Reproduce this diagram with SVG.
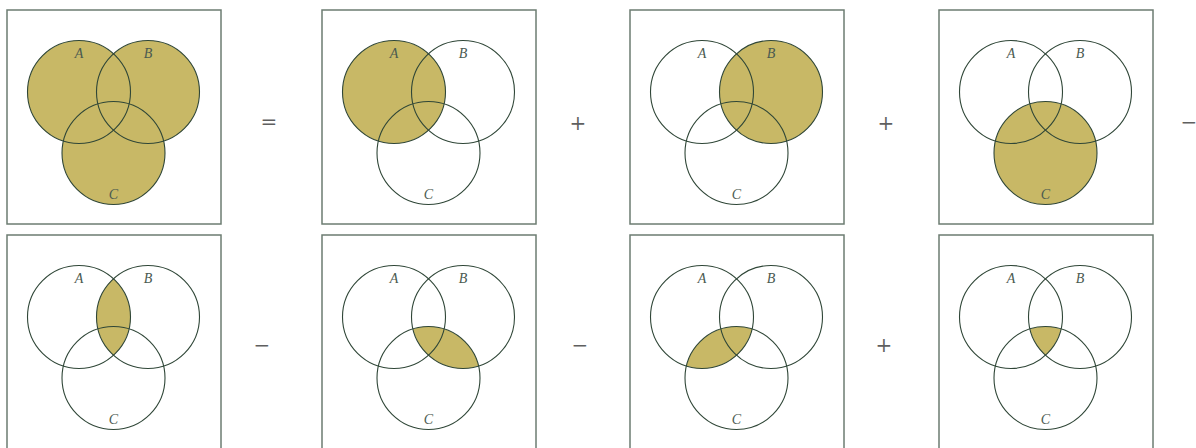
<svg xmlns="http://www.w3.org/2000/svg" width="1196" height="448" viewBox="0 0 1196 448">
<style>
.box{fill:#ffffff;stroke:#6c7c72;stroke-width:1.5}
.ring{fill:none;stroke:#2f4637;stroke-width:1.1}
.sh{fill:#c8b866;stroke:none}
.lbl{font-family:"Liberation Serif",serif;font-style:italic;font-size:14px;fill:#4a5a50;text-anchor:middle}
.op{font-family:"DejaVu Serif","Liberation Serif",serif;font-size:20px;fill:#5f5f5f;text-anchor:middle}
</style>
<defs>
<circle id="cA" cx="72" cy="82" r="51.5"/>
<circle id="cB" cx="141" cy="82" r="51.5"/>
<circle id="cC" cx="106.5" cy="143" r="51.5"/>
<clipPath id="clipA"><use href="#cA"/></clipPath>
<clipPath id="clipB"><use href="#cB"/></clipPath>
<clipPath id="clipC"><use href="#cC"/></clipPath>
<g id="frame">
<rect class="box" x="0" y="0" width="214" height="214"/>
</g>
<g id="rings">
<use href="#cA" class="ring"/>
<use href="#cB" class="ring"/>
<use href="#cC" class="ring"/>
<text class="lbl" x="72" y="48">A</text>
<text class="lbl" x="141" y="48">B</text>
<text class="lbl" x="106.5" y="189">C</text>
</g>
</defs>

<g id="panel-union" transform="translate(7,10)">
<use href="#frame"/>
<use href="#cA" class="sh"/><use href="#cB" class="sh"/><use href="#cC" class="sh"/>
<use href="#rings"/>
</g>
<g id="panel-A" transform="translate(322,10)">
<use href="#frame"/>
<use href="#cA" class="sh"/>
<use href="#rings"/>
</g>
<g id="panel-B" transform="translate(630,10)">
<use href="#frame"/>
<use href="#cB" class="sh"/>
<use href="#rings"/>
</g>
<g id="panel-C" transform="translate(939,10)">
<use href="#frame"/>
<use href="#cC" class="sh"/>
<use href="#rings"/>
</g>

<g id="panel-AB" transform="translate(7,235)">
<use href="#frame"/>
<use href="#cA" class="sh" clip-path="url(#clipB)"/>
<use href="#rings"/>
</g>
<g id="panel-BC" transform="translate(322,235)">
<use href="#frame"/>
<use href="#cB" class="sh" clip-path="url(#clipC)"/>
<use href="#rings"/>
</g>
<g id="panel-AC" transform="translate(630,235)">
<use href="#frame"/>
<use href="#cA" class="sh" clip-path="url(#clipC)"/>
<use href="#rings"/>
</g>
<g id="panel-ABC" transform="translate(939,235)">
<use href="#frame"/>
<g clip-path="url(#clipC)"><use href="#cA" class="sh" clip-path="url(#clipB)"/></g>
<use href="#rings"/>
</g>

<g id="operators">
<text class="op" x="269" y="129">=</text>
<text class="op" x="578" y="130">+</text>
<text class="op" x="886" y="130">+</text>
<text class="op" x="1189" y="129">−</text>
<text class="op" x="262" y="352">−</text>
<text class="op" x="580" y="352">−</text>
<text class="op" x="884" y="352">+</text>
</g>
</svg>
